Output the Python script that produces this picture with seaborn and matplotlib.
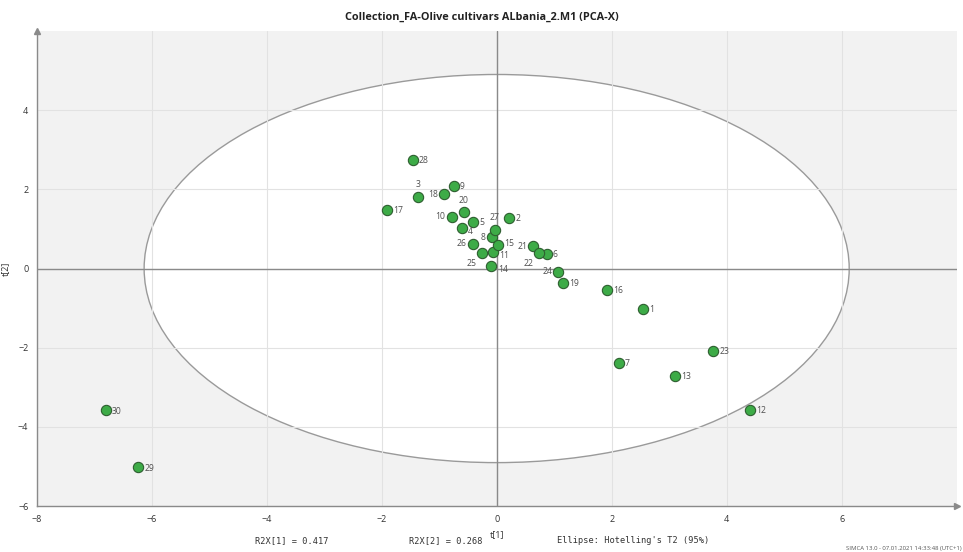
import matplotlib
matplotlib.use("Agg")
import matplotlib.pyplot as plt
from matplotlib.patches import Ellipse
from matplotlib.ticker import MultipleLocator
import pandas as pd
import seaborn as sns


OBS_IDS = [str(i) for i in range(1, 31)]
T1 = [2.55, 0.22, -1.36, -0.61, -0.41, 0.87, 2.12, -0.08, -0.75, -0.78,
      -0.06, 4.40, 3.10, -0.09, 0.02, 1.91, -1.90, -0.91, 1.16, -0.57,
      0.64, 0.74, 3.76, 1.07, -0.25, -0.42, -0.03, -1.46, -6.23, -6.80]
T2 = [-1.02, 1.27, 1.81, 1.02, 1.18, 0.37, -2.38, 0.79, 2.08, 1.31,
      0.42, -3.57, -2.71, 0.06, 0.59, -0.54, 1.48, 1.87, -0.37, 1.42,
      0.56, 0.40, -2.08, -0.08, 0.40, 0.63, 0.97, 2.75, -5.02, -3.58]

# Hotelling's T2 (95%) ellipse half-axes
T2_CRIT_X = 6.13
T2_CRIT_Y = 4.90

R2X = [0.417, 0.268]

# where the observation label sits relative to its point
LABEL_SIDE = {'3': 'above', '20': 'above', '27': 'above',
              '18': 'left', '10': 'left', '8': 'left', '26': 'left',
              '21': 'left', '24': 'left',
              '25': 'below-left', '22': 'below-left',
              '15': 'right-up', '11': 'right-down', '14': 'right-down',
              '4': 'right-down'}
SIDE_STYLE = {
    'right': dict(xytext=(4.5, -0.5), ha='left', va='center'),
    'right-up': dict(xytext=(4.5, 1.5), ha='left', va='center'),
    'right-down': dict(xytext=(4.5, -2.5), ha='left', va='center'),
    'left': dict(xytext=(-4.5, 0), ha='right', va='center'),
    'above': dict(xytext=(0, 5.5), ha='center', va='bottom'),
    'below-left': dict(xytext=(-4, -8), ha='right', va='center'),
}


def plot_scores(out_path: str = 'out.png') -> None:
    df = pd.DataFrame({'obs': OBS_IDS, 't1': T1, 't2': T2})

    sns.set_style('white')
    plt.rcParams['font.family'] = ['Open Sans', 'DejaVu Sans']

    fig = plt.figure(figsize=(9.63, 5.52), dpi=100)
    ax = fig.add_axes([0.038, 0.083, 0.9555, 0.861])
    ax.set_facecolor('#f2f2f2')

    ell = Ellipse((0, 0), 2 * T2_CRIT_X, 2 * T2_CRIT_Y, facecolor='white',
                  edgecolor='#9a9a9a', lw=1.0, zorder=0.3)
    ax.add_patch(ell)

    ax.set_axisbelow(True)
    ax.grid(True, which='major', color='#e2e2e2', lw=0.8)
    ax.axhline(0, color='#8a8a8a', lw=1.0, zorder=0.6)
    ax.axvline(0, color='#8a8a8a', lw=1.0, zorder=0.6)

    sns.scatterplot(data=df, x='t1', y='t2', ax=ax, s=55, color='#3dab47',
                    edgecolor='#2e5e30', linewidth=0.8, zorder=3, legend=False)

    for _, row in df.iterrows():
        style = SIDE_STYLE[LABEL_SIDE.get(row['obs'], 'right')]
        ax.annotate(row['obs'], (row['t1'], row['t2']), textcoords='offset points',
                    fontsize=6.2, color='#505050', zorder=4, **style)

    ax.set_xlim(-8, 8)
    ax.set_ylim(-6, 6)
    ax.xaxis.set_minor_locator(MultipleLocator(1))
    ax.yaxis.set_minor_locator(MultipleLocator(1))
    ax.set_xticks([-8, -6, -4, -2, 0, 2, 4, 6])
    ax.set_yticks([-6, -4, -2, 0, 2, 4])
    ax.tick_params(which='major', direction='out', length=3, width=0.8,
                   color='#8a8a8a', labelsize=6.5, labelcolor='#333333', pad=3)
    ax.tick_params(which='minor', direction='inout', length=2, width=0.8,
                   color='#8a8a8a')

    for side in ['top', 'right']:
        ax.spines[side].set_visible(False)
    for side in ['left', 'bottom']:
        ax.spines[side].set_color('#8a8a8a')
        ax.spines[side].set_linewidth(1.0)
    ax.plot(1, 0, '>', color='#8a8a8a', ms=5, transform=ax.transAxes, clip_on=False)
    ax.plot(0, 1, '^', color='#8a8a8a', ms=5, transform=ax.transAxes, clip_on=False)

    ax.set_xlabel('t[1]', fontsize=6.5, color='#333333', labelpad=5)
    ax.set_ylabel('t[2]', fontsize=6.5, color='#333333', labelpad=6)

    fig.text(0.5, 0.968, 'Collection_FA-Olive cultivars ALbania_2.M1 (PCA-X)',
             ha='center', va='center', fontsize=7.8, fontweight='bold', color='#222222')

    mono = ['DejaVu Sans Mono']
    fig.text(0.265, 0.02, f'R2X[1] = {R2X[0]:.3f}', family=mono, fontsize=6.2,
             color='#333333', va='center')
    fig.text(0.425, 0.02, f'R2X[2] = {R2X[1]:.3f}', family=mono, fontsize=6.2,
             color='#333333', va='center')
    fig.text(0.578, 0.02, "Ellipse: Hotelling's T2 (95%)", family=mono, fontsize=6.2,
             color='#333333', va='center')
    fig.text(0.999, 0.006, 'SIMCA 13.0 - 07.01.2021 14:33:48 (UTC+1)', fontsize=4.3,
             color='#555555', ha='right', va='center')

    fig.savefig(out_path, dpi=100)


if __name__ == '__main__':
    plot_scores()
